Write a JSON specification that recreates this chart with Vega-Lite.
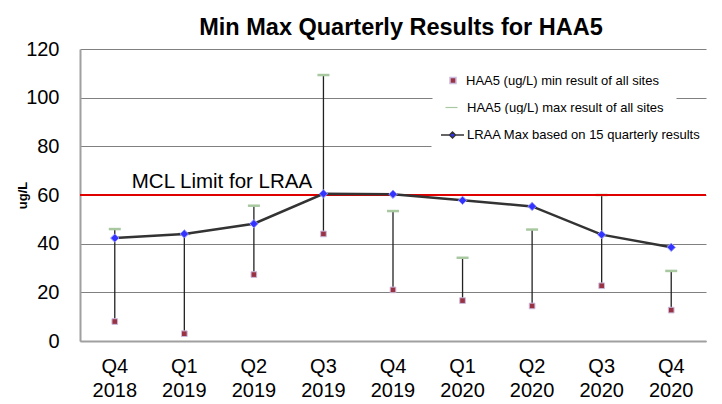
{
  "$schema": "https://vega.github.io/schema/vega-lite/v6.json",
  "autosize": {"type": "none"},
  "width": 626,
  "height": 292,
  "padding": {"left": 80, "top": 49, "right": 16, "bottom": 63},
  "background": "white",
  "title": {"text": "Min Max Quarterly Results for HAA5", "font": "Liberation Sans", "fontSize": 23.5, "fontWeight": "bold", "color": "#000000", "offset": 0, "anchor": "middle", "dx": 8},
  "config": {"view": {"stroke": null}},
  "data": {"values": [
    {"q": "Q4 2018", "min": 8, "max": 46, "lraa": 42.3},
    {"q": "Q1 2019", "min": 3, "max": 44, "lraa": 44},
    {"q": "Q2 2019", "min": 27.3, "max": 55.6, "lraa": 48.2},
    {"q": "Q3 2019", "min": 44, "max": 109.3, "lraa": 60.5},
    {"q": "Q4 2019", "min": 21, "max": 53.4, "lraa": 60.3},
    {"q": "Q1 2020", "min": 16.6, "max": 34.2, "lraa": 57.8},
    {"q": "Q2 2020", "min": 14.4, "max": 45.8, "lraa": 55.3},
    {"q": "Q3 2020", "min": 22.7, "max": 60, "lraa": 43.7},
    {"q": "Q4 2020", "min": 12.7, "max": 28.8, "lraa": 38.5}
  ]},
  "layer": [
    {
      "mark": {"type": "rule", "color": "#222222", "strokeWidth": 1.3},
      "encoding": {
        "x": {"field": "q", "type": "ordinal", "sort": null,
          "scale": {"paddingInner": 0, "paddingOuter": 0},
          "axis": {"title": null, "labelAngle": 0, "labelExpr": "split(datum.label, ' ')", "labelFont": "Liberation Sans", "labelFontSize": 20, "labelColor": "#000000", "labelLineHeight": 24.5, "labelPadding": 31, "labelBaseline": "alphabetic", "ticks": false, "domainColor": "#a0a0a0", "domainWidth": 2, "grid": false}
        },
        "y": {"field": "min", "type": "quantitative", "scale": {"domain": [0, 120]},
          "axis": {"title": "ug/L", "titleFont": "Liberation Sans", "titleFontSize": 13, "titleFontWeight": "bold", "titleColor": "#000000", "titleX": -51, "titleY": 146, "values": [0, 20, 40, 60, 80, 100, 120], "labelFont": "Liberation Sans", "labelFontSize": 20, "labelColor": "#000000", "labelPadding": 21, "ticks": false, "domainColor": "#a0a0a0", "domainWidth": 2, "gridColor": "#808080", "gridWidth": 1}
        },
        "y2": {"field": "max"}
      }
    },
    {
      "mark": {"type": "tick", "thickness": 2.5, "size": 12, "color": "#a8c8a0"},
      "encoding": {
        "x": {"field": "q", "type": "ordinal", "sort": null},
        "y": {"field": "max", "type": "quantitative"},
        "opacity": {"datum": "HAA5 (ug/L) max result of all sites", "type": "nominal",
          "scale": {"range": [1, 1]},
          "legend": {"title": null, "orient": "none", "legendX": 352.5, "legendY": 39.5, "fillColor": "white", "padding": 12,
            "labelFont": "Liberation Sans", "labelFontSize": 13, "labelColor": "#000000", "labelOffset": 8.5, "labelLimit": 400,
            "symbolType": "M-1,-0.1H1V0.1H-1Z", "symbolSize": 144}
        }
      }
    },
    {
      "mark": {"type": "point", "shape": "square", "filled": true, "size": 32, "stroke": "#ccbbdd", "strokeWidth": 1, "opacity": 1},
      "encoding": {
        "x": {"field": "q", "type": "ordinal", "sort": null},
        "y": {"field": "min", "type": "quantitative"},
        "color": {"datum": "HAA5 (ug/L) min result of all sites", "type": "nominal",
          "scale": {"range": ["#993344"]},
          "legend": {"title": null, "orient": "none", "legendX": 358.5, "legendY": 17, "fillColor": "white", "padding": 8,
            "labelFont": "Liberation Sans", "labelFontSize": 13, "labelColor": "#000000", "labelOffset": 6.5, "labelLimit": 400,
            "symbolType": "square", "symbolSize": 36}
        }
      }
    },
    {
      "mark": {"type": "rule", "color": "#e00000", "strokeWidth": 2},
      "encoding": {"y": {"datum": 60}}
    },
    {
      "mark": {"type": "line", "color": "#333333", "strokeWidth": 2.5},
      "encoding": {
        "x": {"field": "q", "type": "ordinal", "sort": null},
        "y": {"field": "lraa", "type": "quantitative"},
        "stroke": {"datum": "LRAA Max based on 15 quarterly results", "type": "nominal",
          "scale": {"range": ["#333333"]},
          "legend": {"title": null, "orient": "none", "legendX": 351.5, "legendY": 65, "fillColor": "white", "padding": 10,
            "labelFont": "Liberation Sans", "labelFontSize": 13, "labelColor": "#000000", "labelOffset": 3.5, "labelLimit": 400,
            "symbolType": "M-1.15,0H-0.3M0.3,0H1.15M0,-0.3L0.3,0L0,0.3L-0.3,0Z", "symbolSize": 400, "symbolFillColor": "#3333ff", "symbolStrokeWidth": 1.5}
        }
      }
    },
    {
      "mark": {"type": "point", "shape": "diamond", "filled": true, "size": 70, "color": "#3333ff", "stroke": "#9999ff", "strokeWidth": 1, "opacity": 1},
      "encoding": {
        "x": {"field": "q", "type": "ordinal", "sort": null},
        "y": {"field": "lraa", "type": "quantitative"}
      }
    },
    {
      "data": {"values": [{"q": "Q4 2018", "v": 60, "label": "MCL Limit for LRAA"}]},
      "mark": {"type": "text", "align": "left", "baseline": "alphabetic", "dx": 17, "dy": -7, "font": "Liberation Sans", "fontSize": 20.5, "color": "#000000"},
      "encoding": {
        "x": {"field": "q", "type": "ordinal", "sort": null},
        "y": {"field": "v", "type": "quantitative"},
        "text": {"field": "label"}
      }
    }
  ]
}
